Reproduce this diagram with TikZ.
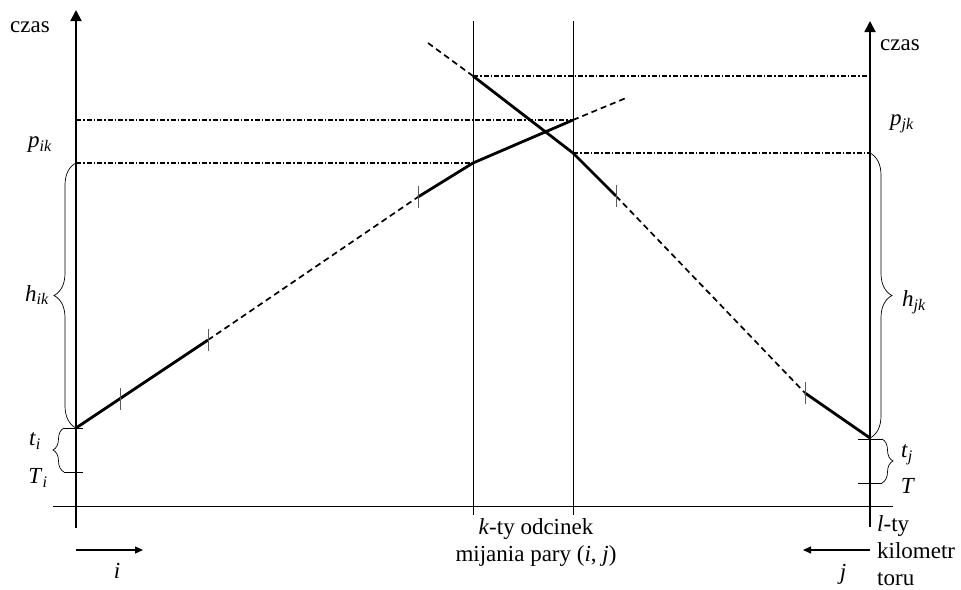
\documentclass[tikz,border=0pt]{standalone}
\usepackage{fontspec}
\setmainfont{Liberation Serif}
\usetikzlibrary{arrows.meta,decorations.pathreplacing}

\newcommand{\idx}[2]{\textit{#1}\textsubscript{\textit{#2}}}

\begin{document}
\begin{tikzpicture}[x=1pt,y=-1pt,every node/.style={font=\fontsize{23}{27}\selectfont,inner sep=0pt}]
  \tikzstyle{axis}=[line width=1.8pt,-{Triangle[length=11pt,width=11pt]}]
  \tikzstyle{run}=[line width=2.8pt,line join=round]
  \tikzstyle{ghost}=[line width=1.7pt,dash pattern=on 6pt off 4pt]
  \tikzstyle{level}=[line width=1.3pt,dash pattern=on 5pt off 2pt on 1.5pt off 2pt]
  \tikzstyle{guide}=[line width=0.8pt]
  \tikzstyle{notch}=[line width=0.8pt,black!65]
  \tikzstyle{brc}=[line width=0.7pt,decorate,decoration={brace,amplitude=#1}]
  \tikzstyle{heading}=[line width=1.2pt,-{Triangle[length=8pt,width=7pt]}]
  \useasboundingbox (0,0) rectangle (961,589);
  % Time axes of both stations
  \coordinate (ibot) at (76,528);
  \coordinate (itop) at (76,10);
  \coordinate (jbot) at (870,527);
  \coordinate (jtop) at (870,21);
  \draw[axis] (ibot) -- (itop);
  \draw[axis] (jbot) -- (jtop);
  \node (lczas) at (30,27) {czas};
  \node (rczas) at (900,45) {czas};
  % Track line and passing section
  \coordinate (bl) at (53,506);
  \coordinate (br) at (893,506);
  \draw[guide] (bl) -- (br);
  \coordinate (kltop) at (473,21);
  \coordinate (klbot) at (473,515);
  \coordinate (krtop) at (573,21);
  \coordinate (krbot) at (573,515);
  \draw[guide] (kltop) -- (klbot);
  \draw[guide] (krtop) -- (krbot);
  % Train i
  \coordinate (i0) at (76,428);
  \coordinate (i1) at (208,340);
  \coordinate (i2) at (418,197);
  \coordinate (i3) at (473,163);
  \coordinate (i4) at (573,120);
  \coordinate (i5) at (626,98);
  \draw[run] (i0) -- (i1);
  \draw[ghost] (i1) -- (i2);
  \draw[run] (i2) -- (i3) -- (i4);
  \draw[ghost] (i4) -- (i5);
  % Train j
  \coordinate (j0) at (428,43);
  \coordinate (j1) at (473,76);
  \coordinate (j2) at (573,153);
  \coordinate (j3) at (616,196);
  \coordinate (j4) at (805,393);
  \coordinate (j5) at (870,438);
  \draw[ghost] (j0) -- (j1);
  \draw[run] (j1) -- (j2) -- (j3);
  \draw[ghost] (j3) -- (j4);
  \draw[run] (j4) -- (j5);
  % Notches along the runs
  \foreach \p in {(120,399),(208,340),(418,197),(616,196),(805,393)}
    \draw[notch] \p ++(0,-11) -- ++(0,22);
  % Levels carried to the axes
  \coordinate (pik) at (76,163);
  \coordinate (pup) at (76,120);
  \coordinate (jup) at (870,76);
  \coordinate (pjk) at (870,153);
  \draw[level] (pik) -- (i3);
  \draw[level] (pup) -- (i4);
  \draw[level] (j1) -- (jup);
  \draw[level] (j2) -- (pjk);
  \node (lpik) at (40,145) {\idx{p}{ik}};
  \node (rpjk) at (902,124) {\idx{p}{jk}};
  % Braces at station i
  \draw[brc=22] (i0) -- (pik);
  \node (lhik) at (37,295) {\idx{h}{ik}};
  \coordinate (ti0) at (64,428);
  \coordinate (ti1) at (64,472);
  \draw[guide] (ti0) -- (83,428);
  \draw[guide] (ti1) -- (83,472);
  \draw[brc=11] (ti1) -- (ti0);
  \node (lti) at (35,441) {\idx{t}{i}};
  \node (lTi) at (38,478) {\idx{T}{i}};
  % Braces at station j
  \draw[brc=22] (pjk) -- (j5);
  \node (rhjk) at (914,302) {\idx{h}{jk}};
  \coordinate (tj0) at (882,439);
  \coordinate (tj1) at (882,483);
  \draw[guide] (858,439) -- (tj0);
  \draw[guide] (858,483) -- (tj1);
  \draw[brc=11] (tj0) -- (tj1);
  \node (rtj) at (907,455) {\idx{t}{j}};
  \node (rT) at (908,486) {\textit{T}};
  % Bottom captions
  \node[align=center] (kseg) at (536,542) {\textit{k}-ty odcinek\\mijania pary (\textit{i}, \textit{j})};
  \node[align=left,anchor=west] (ltor) at (877,551) {\textit{l}-ty\\kilometr\\toru};
  % Directions of travel
  \coordinate (ia) at (76,550);
  \coordinate (ib) at (143,550);
  \coordinate (ja) at (870,550);
  \coordinate (jb) at (803,550);
  \draw[heading] (ia) -- (ib);
  \draw[heading] (ja) -- (jb);
  \node (ilab) at (117,571) {\textit{i}};
  \node (jlab) at (843,574) {\textit{j}};
\end{tikzpicture}
\end{document}
